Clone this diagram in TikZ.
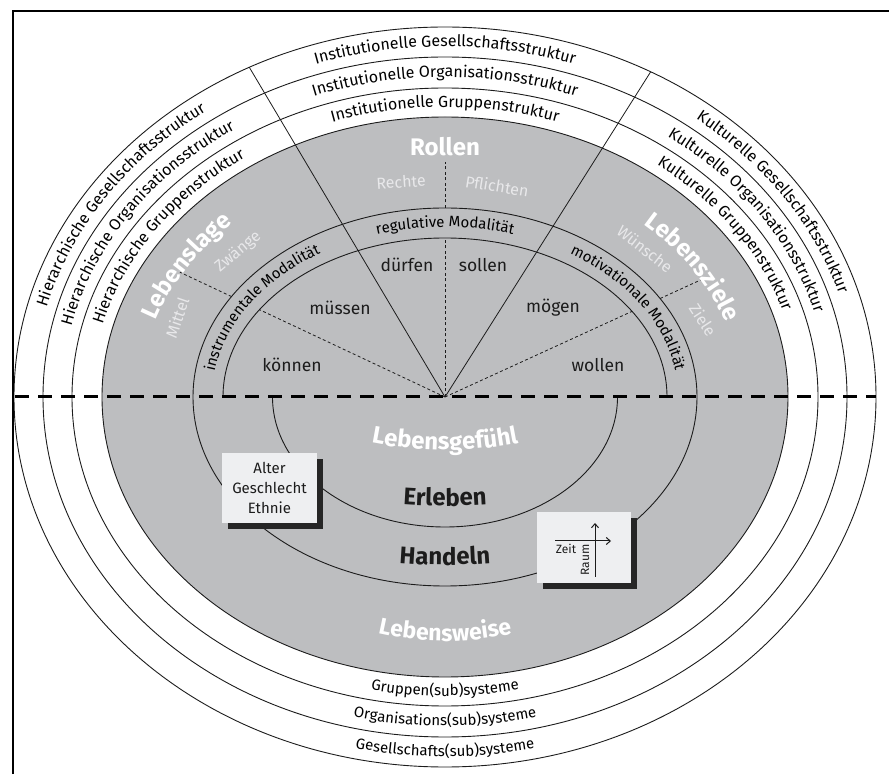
\documentclass[tikz,border=0pt]{standalone}
\usepackage{fontspec}
\setmainfont{Fira Sans}
\usetikzlibrary{calc,decorations.text,arrows.meta}
\definecolor{zone}{RGB}{189,190,192}
\definecolor{ink}{RGB}{28,28,28}
\definecolor{pale}{RGB}{232,232,234}
\definecolor{boxfill}{RGB}{238,239,241}
\definecolor{shade}{RGB}{38,38,38}
\newcommand\ringfont{\fontsize{16}{18}\selectfont}
\newcommand\botfont{\fontsize{15}{18}\selectfont}
\newcommand\modfont{\fontsize{15}{18}\selectfont}
\newcommand\bigfont{\bfseries\fontsize{24}{28}\selectfont}
\tikzset{
  curved/.style 2 args={decorate, decoration={text along path, text={|#1|#2}, text align=center}},
}
\begin{document}
\begin{tikzpicture}[x=1pt,y=1pt,
  ringline/.style={draw=ink, line width=0.9pt},
  spoke/.style={draw=ink, line width=0.8pt},
  dspoke/.style={draw=ink, line width=0.8pt, dash pattern=on 3pt off 2.5pt},
  verb/.style={text=ink, font=\fontsize{17.5}{20}\selectfont, inner sep=0pt},
  palelabel/.style={text=pale, font=\fontsize{16}{18}\selectfont, inner sep=0pt},
  biglabel/.style={font=\bigfont, inner sep=0pt},
  infobox/.style={fill=boxfill, inner sep=0pt},
  shadowbox/.style={fill=shade, inner sep=0pt},
  tip/.style={-{Straight Barb[length=4pt,width=7pt]}, line width=1pt, draw=ink},
]
\useasboundingbox (0,0) rectangle (889,774);
\coordinate (C) at (445,377);

% grey zone and rings
\fill[zone] (C) ellipse[x radius=343pt, y radius=280pt];
\draw[ringline] (C) ellipse[x radius=343pt, y radius=280pt];
\draw[ringline] (C) ellipse[x radius=373pt, y radius=309pt];
\draw[ringline] (C) ellipse[x radius=402pt, y radius=340pt];
\draw[ringline] (C) ellipse[x radius=431pt, y radius=370pt];

% modality band and inner arcs
\draw[ringline] (C) ellipse[x radius=252pt, y radius=189pt];
\draw[ringline] ($(C)+(-222,0)$) arc[start angle=180, end angle=0, x radius=222pt, y radius=159pt];
\draw[ringline] ($(C)+(-172.5,0)$) arc[start angle=180, end angle=360, x radius=172.5pt, y radius=130pt];

% spokes
\coordinate (SL) at ($(C)+(117:431 and 370)$);
\coordinate (SR) at ($(C)+(61.5:431 and 370)$);
\draw[spoke] (C) -- (SL);
\draw[spoke] (C) -- (SR);
\coordinate (DLa) at ($(C)+(154.8:205.1)$);
\coordinate (DLb) at ($(C)+(154.8:236)$);
\coordinate (DLc) at ($(C)+(154.8:293)$);
\coordinate (DRa) at ($(C)+(24.6:205.7)$);
\coordinate (DRb) at ($(C)+(24.6:236.6)$);
\coordinate (DRc) at ($(C)+(24.6:284.5)$);
\coordinate (DVa) at ($(C)+(0,159)$);
\coordinate (DVb) at ($(C)+(0,189)$);
\coordinate (DVc) at ($(C)+(0,235)$);
\draw[dspoke] (C) -- (DLa);
\draw[dspoke] (DLb) -- (DLc);
\draw[dspoke] (C) -- (DRa);
\draw[dspoke] (DRb) -- (DRc);
\draw[dspoke] (C) -- (DVa);
\draw[dspoke] (DVb) -- (DVc);

% horizontal dashed divider
\coordinate (HL) at (15,377);
\coordinate (HR) at (876,377);
\draw[line width=3pt, dash pattern=on 14pt off 9pt] (HL) -- (HR);

% frame
\coordinate (F1) at (13,0);
\coordinate (F2) at (13,763);
\coordinate (F3) at (889,763);
\draw[line width=1.3pt] (F1) -- (F2) -- (F3);

% ring labels: top
\path[curved={\ringfont}{Institutionelle Gesellschaftsstruktur}] ($(C)+(130:412 and 350.5)$) arc[start angle=130, end angle=50, x radius=412pt, y radius=350.5pt];
\path[curved={\ringfont}{Institutionelle Organisationsstruktur}] ($(C)+(130:383 and 320)$) arc[start angle=130, end angle=50, x radius=383pt, y radius=320pt];
\path[curved={\ringfont}{Institutionelle Gruppenstruktur}] ($(C)+(130:353.5 and 290)$) arc[start angle=130, end angle=50, x radius=353.5pt, y radius=290pt];
% left
\path[curved={\ringfont}{Hierarchische Gesellschaftsstruktur}] ($(C)+(192:412 and 350.5)$) arc[start angle=192, end angle=102, x radius=412pt, y radius=350.5pt];
\path[curved={\ringfont}{Hierarchische Organisationsstruktur}] ($(C)+(192:383 and 320)$) arc[start angle=192, end angle=102, x radius=383pt, y radius=320pt];
\path[curved={\ringfont}{Hierarchische Gruppenstruktur}] ($(C)+(192:353.5 and 290)$) arc[start angle=192, end angle=102, x radius=353.5pt, y radius=290pt];
% right
\path[curved={\ringfont}{Kulturelle Gesellschaftsstruktur}] ($(C)+(78:412 and 350.5)$) arc[start angle=78, end angle=-12, x radius=412pt, y radius=350.5pt];
\path[curved={\ringfont}{Kulturelle Organisationsstruktur}] ($(C)+(78:383 and 320)$) arc[start angle=78, end angle=-12, x radius=383pt, y radius=320pt];
\path[curved={\ringfont}{Kulturelle Gruppenstruktur}] ($(C)+(78:353.5 and 290)$) arc[start angle=78, end angle=-12, x radius=353.5pt, y radius=290pt];
% bottom
\path[curved={\botfont}{Gruppen(sub)systeme}] ($(C)+(240:362.5 and 299)$) arc[start angle=240, end angle=300, x radius=362.5pt, y radius=299pt];
\path[curved={\botfont}{Organisations(sub)systeme}] ($(C)+(240:392 and 329)$) arc[start angle=240, end angle=300, x radius=392pt, y radius=329pt];
\path[curved={\botfont}{Gesellschafts(sub)systeme}] ($(C)+(240:421 and 359.5)$) arc[start angle=240, end angle=300, x radius=421pt, y radius=359.5pt];

% modality labels
\path[curved={\modfont}{regulative Modalität}] ($(C)+(125:233 and 170)$) arc[start angle=125, end angle=55, x radius=233pt, y radius=170pt];
\path[curved={\modfont}{instrumentale Modalität}] ($(C)+(190:233 and 170)$) arc[start angle=190, end angle=108, x radius=233pt, y radius=170pt];
\path[curved={\modfont}{motivationale Modalität}] ($(C)+(72:233 and 170)$) arc[start angle=72, end angle=-10, x radius=233pt, y radius=170pt];

% big curved labels
\path[curved={\bigfont}{Lebenslage}, decoration={text color=white}] ($(C)+(190:305 and 242)$) arc[start angle=190, end angle=110, x radius=305pt, y radius=242pt];
\path[curved={\bigfont}{Lebensziele}, decoration={text color=white}] ($(C)+(71:296 and 233)$) arc[start angle=71, end angle=-9, x radius=296pt, y radius=233pt];
\coordinate (GF) at (445,704);
\path[curved={\bigfont}{Lebensgefühl}, decoration={text color=white}] ($(GF)+(250:380)$) arc[start angle=250, end angle=290, radius=380pt];
\coordinate (ER) at (445,868);
\path[curved={\bigfont}{Erleben}, decoration={text color=ink}] ($(ER)+(255:600)$) arc[start angle=255, end angle=285, radius=600pt];
\coordinate (HA) at (445,809);
\path[curved={\bigfont}{Handeln}, decoration={text color=ink}] ($(HA)+(255:600)$) arc[start angle=255, end angle=285, radius=600pt];
\coordinate (LW) at (445,433);
\path[curved={\bigfont\fontsize{23}{26}\selectfont}{Lebensweise}, decoration={text color=white}] ($(LW)+(240:300)$) arc[start angle=240, end angle=300, radius=300pt];

\node[biglabel, text=white] (rollen) at (445,627) {Rollen};

% pale labels
\node[palelabel, rotate=4] (rechte) at (401,592) {Rechte};
\node[palelabel, rotate=-9] (pflichten) at (497,588) {Pflichten};
\node[palelabel, rotate=71] (mittel) at (177,456) {Mittel};
\node[palelabel, rotate=40] (zwaenge) at (238,522) {Zwänge};
\node[palelabel, rotate=-38] (wuensche) at (645,525) {Wünsche};
\node[palelabel, rotate=-57] (ziele) at (703,454) {Ziele};

% modal verbs
\node[verb] (duerfen) at (407,509) {dürfen};
\node[verb] (sollen) at (483,509) {sollen};
\node[verb] (muessen) at (340,466) {müssen};
\node[verb] (moegen) at (553,466) {mögen};
\node[verb] (koennen) at (292,409) {können};
\node[verb] (wollen) at (598,409) {wollen};

% info boxes
\node[shadowbox, minimum width=95pt, minimum height=70pt] (ageshadow) at (275.5,280) {};
\node[infobox, minimum width=95pt, minimum height=70pt, align=center, text=ink,
      font=\fontsize{15}{20}\selectfont] (agebox) at (269.5,286) {Alter\\Geschlecht\\Ethnie};

\node[shadowbox, minimum width=94pt, minimum height=71pt] (tsshadow) at (590,220.5) {};
\node[infobox, minimum width=94pt, minimum height=71pt] (tsbox) at (584,226.5) {};
\coordinate (VA) at (595,197);
\coordinate (VB) at (595,251);
\coordinate (HA1) at (555,233);
\coordinate (HB1) at (611,233);
\draw[tip] (VA) -- (VB);
\draw[tip] (HA1) -- (HB1);
\node[text=ink, font=\fontsize{12}{14}\selectfont, inner sep=0pt] (zeit) at (566,225) {Zeit};
\node[text=ink, font=\fontsize{12}{14}\selectfont, inner sep=0pt, rotate=90] (raum) at (585,214) {Raum};
\end{tikzpicture}
\end{document}
